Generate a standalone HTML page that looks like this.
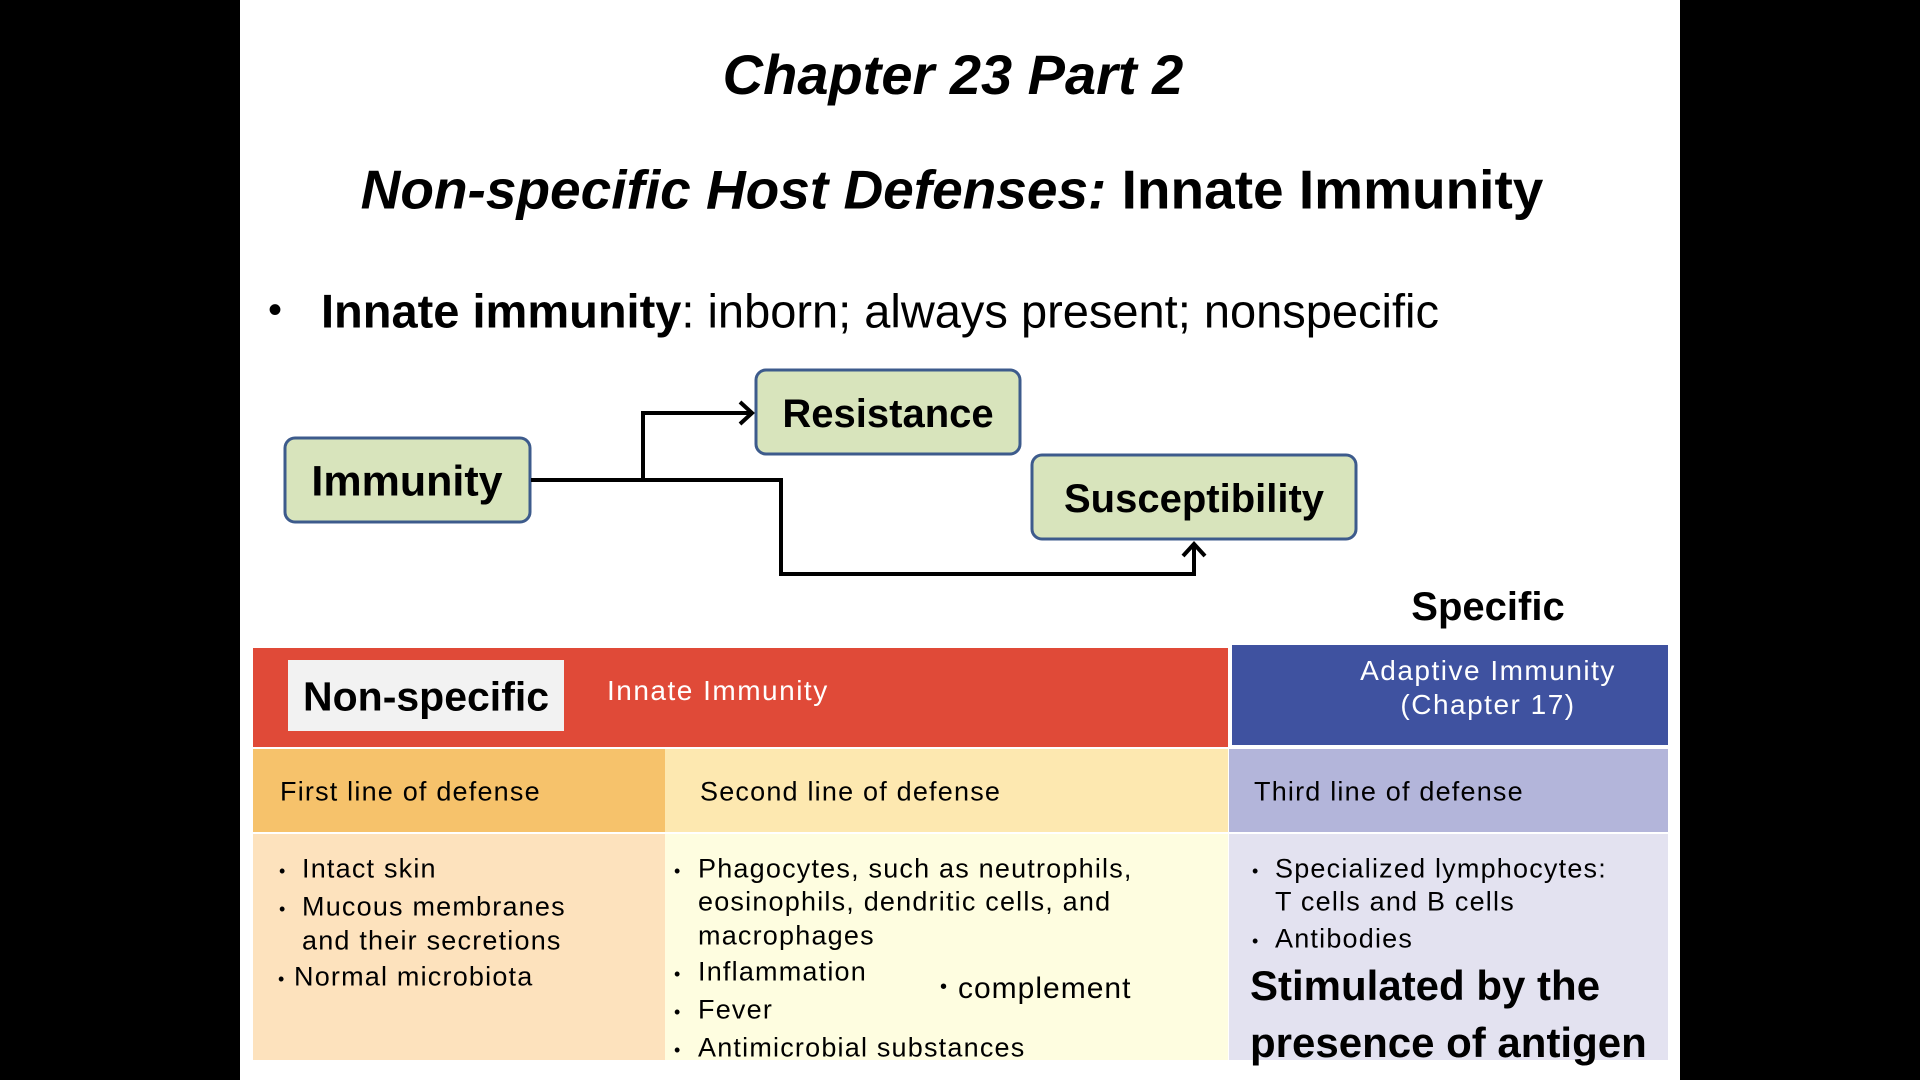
<!DOCTYPE html>
<html><head><meta charset="utf-8"><style>
body{margin:0;width:1920px;height:1080px;background:#000;position:relative;overflow:hidden;font-family:"Liberation Sans",sans-serif;}
.s{position:absolute;left:240px;top:0;width:1440px;height:1080px;background:#fff;}
.t{position:absolute;white-space:nowrap;line-height:1;transform:translateY(-50%);color:#000;}
.c{transform:translate(-50%,-50%);}
.r{position:absolute;}
.b .t{font-size:27px;letter-spacing:1.2px;}
.b .d{font-size:18px;letter-spacing:0;}
</style></head><body>
<div class="s"></div>
<div class="t c" style="left:953px;top:75px;font-size:56px;font-weight:bold;font-style:italic;">Chapter 23 Part 2</div>
<div class="t c" style="left:952px;top:190px;font-size:55px;font-weight:bold;"><i>Non-specific Host Defenses:</i> Innate Immunity</div>
<div class="t" style="left:268px;top:310px;font-size:40px;">•</div>
<div class="t" style="left:321px;top:311px;font-size:47px;"><b>Innate immunity</b>: inborn; always present; nonspecific</div>

<svg class="r" style="left:0;top:0" width="1920" height="1080">
<g fill="#d8e4bc" stroke="#3d5b8c" stroke-width="3">
<rect x="285" y="438" width="245" height="84" rx="10"/>
<rect x="756" y="370" width="264" height="84" rx="10"/>
<rect x="1032" y="455" width="324" height="84" rx="10"/>
</g>
<g fill="none" stroke="#000" stroke-width="4">
<polyline points="531,480 781,480 781,574 1194,574 1194,545"/>
<polyline points="643,480 643,413 750,413"/>
<polyline points="740,402 752,413 740,424"/>
<polyline points="1183,556 1194,544 1205,556"/>
</g>
</svg>
<div class="t c" style="left:407px;top:482px;font-size:43px;font-weight:bold;">Immunity</div>
<div class="t c" style="left:888px;top:414px;font-size:40px;font-weight:bold;">Resistance</div>
<div class="t c" style="left:1194px;top:499px;font-size:40px;font-weight:bold;">Susceptibility</div>
<div class="t c" style="left:1488px;top:607px;font-size:40px;font-weight:bold;">Specific</div>

<div class="r" style="left:253px;top:648px;width:975px;height:99px;background:#e04a38;"></div>
<div class="r" style="left:1232px;top:645px;width:436px;height:100px;background:#3f52a0;"></div>
<div class="r" style="left:288px;top:660px;width:276px;height:71px;background:#f2f2f2;"></div>
<div class="t" style="left:303px;top:697px;font-size:41px;font-weight:bold;">Non-specific</div>
<div class="t" style="left:607px;top:691px;font-size:28px;letter-spacing:1.5px;color:#fff;">Innate Immunity</div>
<div class="t c" style="left:1488px;top:671px;font-size:28px;letter-spacing:1.5px;color:#fff;">Adaptive Immunity</div>
<div class="t c" style="left:1488px;top:705px;font-size:28px;letter-spacing:1.5px;color:#fff;">(Chapter 17)</div>

<div class="r" style="left:253px;top:749px;width:412px;height:83px;background:#f6c26b;"></div>
<div class="r" style="left:665px;top:749px;width:563px;height:83px;background:#fde8b0;"></div>
<div class="r" style="left:1229px;top:749px;width:439px;height:83px;background:#b3b5da;"></div>
<div class="r" style="left:253px;top:834px;width:412px;height:226px;background:#fde2bd;"></div>
<div class="r" style="left:665px;top:834px;width:563px;height:226px;background:#fefde0;"></div>
<div class="r" style="left:1229px;top:834px;width:439px;height:226px;background:#e3e2f0;"></div>

<div class="b">
<div class="t" style="left:280px;top:792px;">First line of defense</div>
<div class="t" style="left:700px;top:792px;">Second line of defense</div>
<div class="t" style="left:1254px;top:792px;">Third line of defense</div>

<div class="t d" style="left:279px;top:871px;">•</div><div class="t" style="left:302px;top:869px;">Intact skin</div>
<div class="t d" style="left:279px;top:909px;">•</div><div class="t" style="left:302px;top:907px;">Mucous membranes</div>
<div class="t" style="left:302px;top:941px;">and their secretions</div>
<div class="t d" style="left:278px;top:979px;">•</div><div class="t" style="left:294px;top:977px;">Normal microbiota</div>

<div class="t d" style="left:674px;top:871px;">•</div><div class="t" style="left:698px;top:869px;">Phagocytes, such as neutrophils,</div>
<div class="t" style="left:698px;top:902px;">eosinophils, dendritic cells, and</div>
<div class="t" style="left:698px;top:936px;">macrophages</div>
<div class="t d" style="left:674px;top:974px;">•</div><div class="t" style="left:698px;top:972px;">Inflammation</div>
<div class="t d" style="left:674px;top:1012px;">•</div><div class="t" style="left:698px;top:1010px;">Fever</div>
<div class="t d" style="left:674px;top:1050px;">•</div><div class="t" style="left:698px;top:1048px;">Antimicrobial substances</div>
<div class="t" style="left:940px;top:987px;font-size:20px;letter-spacing:0;">•</div><div class="t" style="left:958px;top:989px;font-size:30px;letter-spacing:1px;">complement</div>

<div class="t d" style="left:1252px;top:871px;">•</div><div class="t" style="left:1275px;top:869px;">Specialized lymphocytes:</div>
<div class="t" style="left:1275px;top:902px;">T cells and B cells</div>
<div class="t d" style="left:1252px;top:941px;">•</div><div class="t" style="left:1275px;top:939px;">Antibodies</div>
</div>
<div class="t" style="left:1250px;top:986px;font-size:42px;font-weight:bold;">Stimulated by the</div>
<div class="t" style="left:1250px;top:1043px;font-size:42px;font-weight:bold;">presence of antigen</div>
</body></html>
